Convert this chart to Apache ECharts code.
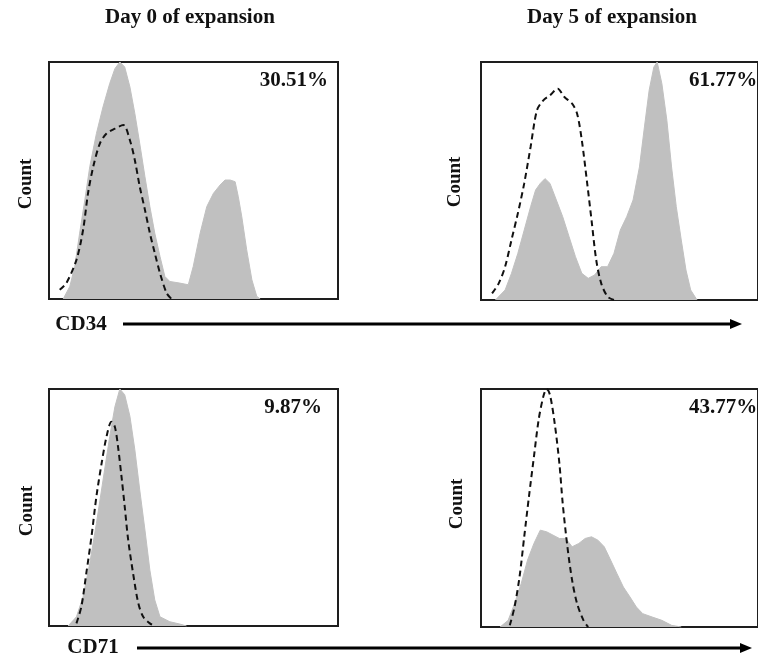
<!DOCTYPE html>
<html>
<head>
<meta charset="utf-8">
<script src="https://cdn.jsdelivr.net/npm/echarts@6/dist/echarts.min.js"></script>
<style>
  html, body { margin: 0; padding: 0; background: #fff; }
  #chart { width: 758px; height: 659px; }
</style>
</head>
<body>
<div id="chart"></div>
<script>
// x = % of panel width (fluorescence), y = % of panel height (count)
const day0CD34Fill = [[4.9,0],[7.2,5.3],[8.9,13.7],[10.6,27.8],[12.4,41.8],[14.1,55.8],[16.4,69.8],[18.7,81.1],[21.0,90.9],[22.8,97.2],[24.5,100],[26.2,97.9],[28.0,89.5],[29.7,78.3],[31.4,65.6],[33.2,51.6],[34.9,39.0],[36.6,27.8],[38.4,18.0],[40.1,9.5],[41.8,7.4],[45.3,6.7],[48.2,6.0],[49.9,13.7],[52.3,27.8],[54.6,39.0],[56.9,44.6],[59.2,48.1],[60.9,50.2],[62.7,50.2],[64.4,49.5],[65.5,43.2],[66.7,34.8],[68.4,20.8],[70.2,8.1],[71.9,1.1],[73.1,0]];
const day0CD34Ctrl = [[3.7,3.9],[6.0,6.7],[9.5,16.5],[11.8,29.2],[13.5,44.6],[15.3,55.8],[17.6,65.6],[19.9,69.8],[22.8,71.9],[25.7,73.4],[28.0,67.0],[29.7,58.6],[31.4,47.4],[33.2,37.6],[34.9,27.8],[36.6,19.4],[38.4,10.9],[40.7,2.5],[42.4,0]];

const day5CD34Fill = [[5.2,0],[8.7,4.2],[11.0,11.2],[13.3,19.6],[15.6,29.4],[17.9,39.2],[19.7,46.2],[21.4,49.0],[23.1,51.0],[24.9,49.0],[27.2,42.0],[29.5,35.0],[31.8,26.6],[34.1,18.2],[36.4,11.2],[38.7,9.1],[41.0,10.5],[43.4,14.0],[45.7,14.0],[48.0,19.6],[50.3,29.4],[52.6,35.0],[54.9,42.0],[57.2,55.9],[59.0,72.7],[60.7,88.1],[62.4,97.9],[63.6,100],[65.3,90.9],[67.1,75.5],[68.8,55.9],[70.5,39.2],[72.3,25.2],[74.0,12.6],[75.7,4.2],[78.0,0]];
const day5CD34Ctrl = [[4.0,2.8],[6.4,7.0],[8.7,14.0],[11.0,25.2],[13.3,36.4],[15.6,49.0],[17.9,64.3],[20.2,79.7],[22.5,83.9],[24.9,86.0],[27.7,88.8],[30.1,85.3],[32.9,82.5],[34.7,78.3],[36.4,67.1],[38.2,50.3],[39.9,33.6],[41.6,16.8],[43.4,7.0],[45.7,1.4],[48.0,0]];

const day0CD71Fill = [[6.6,0],[9.5,3.9],[11.8,12.4],[14.1,26.4],[16.4,43.3],[18.7,61.6],[21.0,79.9],[22.8,92.5],[24.5,100],[26.2,97.6],[28.0,88.5],[29.7,74.4],[31.4,57.4],[33.2,40.5],[34.9,23.6],[36.6,11.0],[38.4,3.9],[41.8,1.8],[45.3,0.8],[47.6,0]];
const day0CD71Ctrl = [[9.5,1.1],[11.2,8.2],[12.9,22.2],[14.7,37.7],[16.4,54.6],[18.2,68.6],[19.9,79.9],[21.6,86.2],[22.8,84.0],[23.9,75.5],[25.1,62.9],[26.2,50.4],[27.4,36.3],[29.1,22.2],[30.9,9.6],[32.6,3.9],[34.9,1.1],[36.6,0]];

const day5CD71Fill = [[6.9,0],[9.8,2.8],[12.1,9.8],[14.5,18.2],[16.8,28.1],[19.1,35.1],[21.4,40.7],[23.7,40.0],[26.0,38.6],[28.3,37.2],[30.6,37.2],[32.9,33.7],[35.3,35.1],[37.6,37.2],[39.9,37.9],[42.2,36.5],[44.5,33.7],[46.8,28.1],[49.1,22.4],[51.4,16.8],[53.8,12.6],[56.1,8.4],[58.4,5.6],[61.8,4.2],[65.3,2.8],[68.8,0.7],[72.3,0]];
const day5CD71Ctrl = [[10.4,0.7],[12.1,8.4],[13.9,21.0],[15.6,37.9],[17.3,54.7],[19.1,71.5],[20.8,87.0],[22.5,96.8],[23.7,100],[24.9,97.5],[26.6,85.6],[28.3,68.7],[29.5,51.9],[31.2,33.7],[32.9,19.6],[34.7,9.8],[37.0,2.8],[38.7,0]];

const columnTitles = ['Day 0 of expansion', 'Day 5 of expansion'];
const percents = ['30.51%', '61.77%', '9.87%', '43.77%'];
const markers = ['CD34', 'CD71'];

const panels = [
  { fill: day0CD34Fill, ctrl: day0CD34Ctrl, box: { left: 49, top: 62, width: 289, height: 237 } },
  { fill: day5CD34Fill, ctrl: day5CD34Ctrl, box: { left: 481, top: 62, width: 289, height: 238 } },
  { fill: day0CD71Fill, ctrl: day0CD71Ctrl, box: { left: 49, top: 389, width: 289, height: 237 } },
  { fill: day5CD71Fill, ctrl: day5CD71Ctrl, box: { left: 481, top: 389, width: 289, height: 238 } }
];

const FONT = '"Liberation Serif", "DejaVu Serif", serif';
const chart = echarts.init(document.getElementById('chart'));

const grid = [], xAxis = [], yAxis = [], series = [];
panels.forEach((p, i) => {
  grid.push(Object.assign({ show: true, borderColor: '#1e1e1e', borderWidth: 2, backgroundColor: 'transparent' }, p.box));
  xAxis.push({ type: 'value', gridIndex: i, min: 0, max: 100, show: false });
  yAxis.push({ type: 'value', gridIndex: i, min: 0, max: 100, show: false });
  series.push({
    type: 'line', xAxisIndex: i, yAxisIndex: i, data: p.fill, symbol: 'none',
    lineStyle: { color: '#c0c0c0', width: 1 }, areaStyle: { color: '#c0c0c0', opacity: 1 },
    z: 2, silent: true
  });
  series.push({
    type: 'line', xAxisIndex: i, yAxisIndex: i, data: p.ctrl, symbol: 'none', smooth: 0.3,
    lineStyle: { color: '#111', width: 2, type: [6, 4] },
    z: 3, silent: true
  });
});

function txt(x, y, s, size, align, rot) {
  return {
    type: 'text', x: x, y: y, rotation: rot || 0, z: 10,
    style: { text: s, font: 'bold ' + size + 'px ' + FONT, fill: '#111', align: align, verticalAlign: 'middle' }
  };
}
function arrow(x1, x2, y) {
  return [
    { type: 'line', z: 10, shape: { x1: x1, y1: y, x2: x2 - 8, y2: y }, style: { stroke: '#000', lineWidth: 3 } },
    { type: 'polygon', z: 10, shape: { points: [[x2 - 12, y - 5], [x2, y], [x2 - 12, y + 5]] }, style: { fill: '#000' } }
  ];
}

const graphic = [
  txt(190, 18, columnTitles[0], 21, 'center'),
  txt(612, 18, columnTitles[1], 21, 'center'),
  txt(328, 81, percents[0], 21, 'right'),
  txt(689, 81, percents[1], 21, 'left'),
  txt(322, 408, percents[2], 21, 'right'),
  txt(689, 408, percents[3], 21, 'left'),
  txt(26, 184, 'Count', 19, 'center', Math.PI / 2),
  txt(455, 182, 'Count', 19, 'center', Math.PI / 2),
  txt(27, 511, 'Count', 19, 'center', Math.PI / 2),
  txt(457, 504, 'Count', 19, 'center', Math.PI / 2),
  txt(81, 325, markers[0], 21, 'center'),
  txt(93, 648, markers[1], 21, 'center')
].concat(arrow(123, 742, 324), arrow(137, 752, 648));

chart.setOption({
  backgroundColor: '#fff',
  animation: false,
  grid: grid,
  xAxis: xAxis,
  yAxis: yAxis,
  series: series,
  graphic: graphic
});
</script>
</body>
</html>
